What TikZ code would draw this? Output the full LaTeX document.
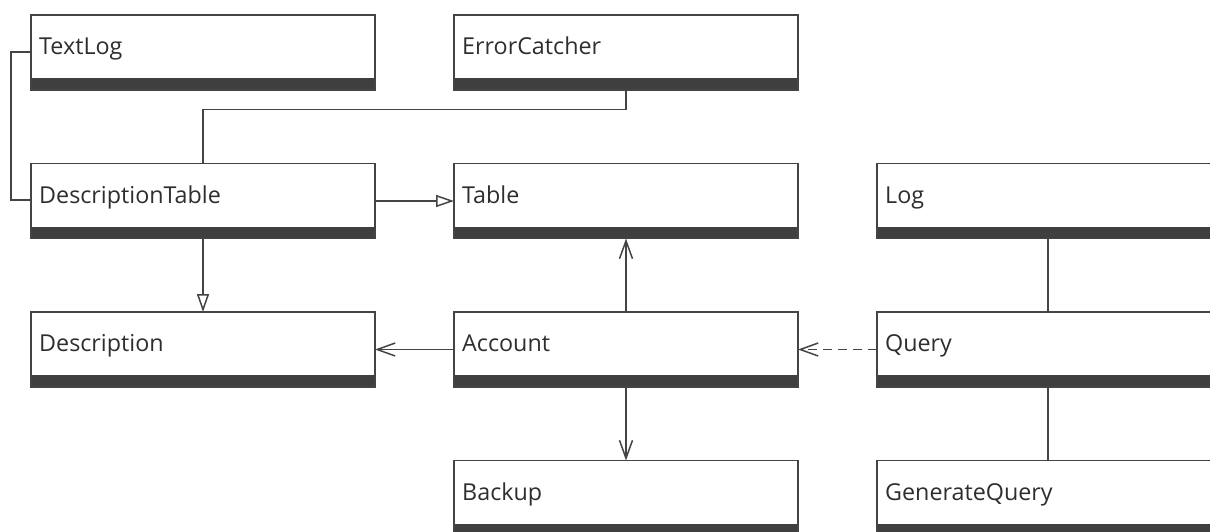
\documentclass[tikz,border=0pt]{standalone}
\usepackage{fontspec}
\setmainfont{Open Sans}
\usetikzlibrary{arrows.meta,calc}
\definecolor{linec}{HTML}{444444}
\definecolor{barc}{HTML}{3F3F3F}
\definecolor{txtc}{HTML}{2E2E2E}
\tikzset{
  cls/.style={draw=linec, line width=1.6pt, rectangle, minimum width=344pt, minimum height=75pt, inner sep=0pt, outer sep=0pt, fill=white,
    path picture={\fill[barc] (path picture bounding box.south west) rectangle ([yshift=12pt]path picture bounding box.south east);}},
  lbl/.style={anchor=base west, inner sep=0pt, text=txtc, font=\fontsize{23.3}{27}\selectfont},
  conn/.style={draw=linec, line width=1.5pt},
  gen/.style={conn, -{Triangle[open, length=18pt, width=12pt, line width=1.5pt]}},
  assoc/.style={conn, -{Straight Barb[length=18pt, width=13pt, line width=1.5pt]}},
  dep/.style={assoc, dash pattern=on 9pt off 6pt},
}
\newcommand\umlbox[3]{%
  \node[cls] (#1) at (#2) {};
  \node[lbl] (#1-t) at ($(#1.north west)+(8,39.5)$) {#3};
}
\begin{document}
\begin{tikzpicture}[x=1pt, y=-1pt]
\useasboundingbox (0,0) rectangle (1210,531);
\clip (0,0) rectangle (1210,531);
\umlbox{textlog}{203,52.5}{TextLog}
\umlbox{errc}{626,52.5}{ErrorCatcher}
\umlbox{desctab}{203,201}{DescriptionTable}
\umlbox{table}{626,201}{Table}
\umlbox{log}{1049,201}{Log}
\umlbox{desc}{203,349.5}{Description}
\umlbox{acct}{626,349.5}{Account}
\umlbox{query}{1049,349.5}{Query}
\umlbox{backup}{626,498}{Backup}
\umlbox{genq}{1049,498}{GenerateQuery}
% connectors
\draw[conn] (textlog.west |- 0,52) -- (11,52) -- (11,200) -- (desctab.west |- 0,200);
\draw[conn] (errc.south) -- (626,109.5) -- (203,109.5) -- (desctab.north);
\draw[gen] (desctab.east) -- (table.west);
\draw[gen] (desctab.south) -- (desc.north);
\draw[assoc] (acct.north) -- (table.south);
\draw[assoc] (acct.west) -- (desc.east);
\draw[dep] (query.west) -- (acct.east);
\draw[assoc] (acct.south) -- (backup.north);
\draw[conn] (log.south -| 1048,0) -- (query.north -| 1048,0);
\draw[conn] (query.south -| 1048,0) -- (genq.north -| 1048,0);
\end{tikzpicture}
\end{document}
